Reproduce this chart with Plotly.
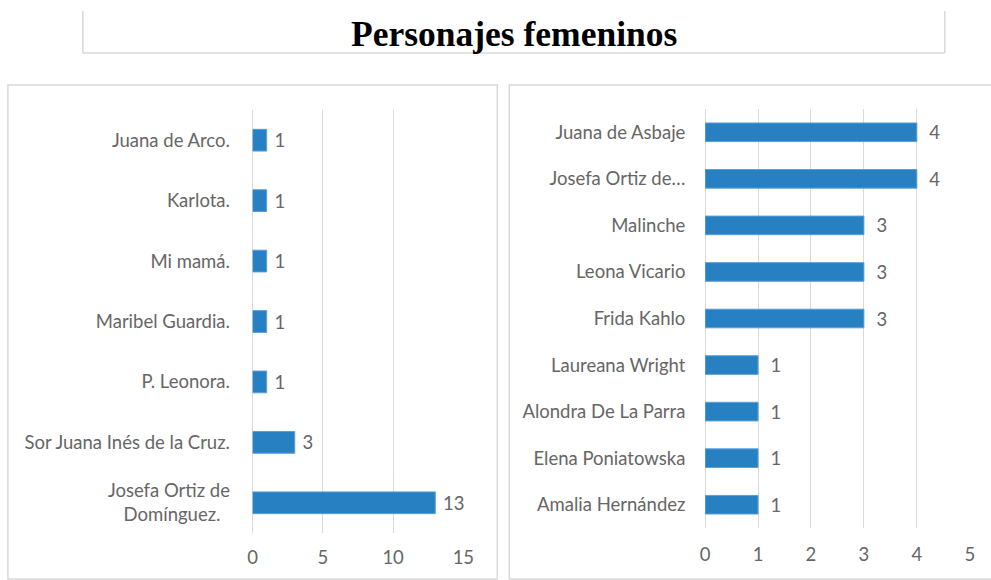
import plotly.graph_objects as go

W, H = 991, 580

left_names = ["Juana de Arco.", "Karlota.", "Mi mamá.", "Maribel Guardia.", "P. Leonora.",
              "Sor Juana Inés de la Cruz.", "Josefa Ortiz de<br>Domínguez.\u00a0\u00a0"]
left_values = [1, 1, 1, 1, 1, 3, 13]
left_ticks = [0, 5, 10, 15]

right_names = ["Juana de Asbaje", "Josefa Ortiz de…", "Malinche", "Leona Vicario", "Frida Kahlo",
               "Laureana Wright", "Alondra De La Parra", "Elena Poniatowska", "Amalia Hernández"]
right_values = [4, 4, 3, 3, 3, 1, 1, 1, 1]
right_ticks = [0, 1, 2, 3, 4, 5]

title_text = "Personajes femeninos"

BAR = "#2680c2"
BAR_EDGE = "#5a9fd8"
GRID = "#d9d9d9"
TXT = "#666666"
FONT = "Lato"
FS = 18.5

# horizontal compensation for how the page is photographed
SX, OX = 0.985, 5.1

def px_x(p):
    return (p - OX) / SX / W

def px_y(p):
    return 1 - p / H

fig = go.Figure()

fig.add_trace(go.Bar(
    y=left_names, x=left_values, orientation="h", width=0.36,
    marker=dict(color=BAR, line=dict(color=BAR_EDGE, width=1)),
    text=[f" {v}" for v in left_values], textposition="outside", cliponaxis=False,
    constraintext="none",
    textfont=dict(family=FONT, size=FS, color=TXT),
    xaxis="x", yaxis="y", showlegend=False, hoverinfo="skip"))

fig.add_trace(go.Bar(
    y=right_names, x=right_values, orientation="h", width=0.4,
    marker=dict(color=BAR, line=dict(color=BAR_EDGE, width=1)),
    text=[f"  {v}" for v in right_values], textposition="outside", cliponaxis=False,
    constraintext="none",
    textfont=dict(family=FONT, size=FS, color=TXT),
    xaxis="x2", yaxis="y2", showlegend=False, hoverinfo="skip"))

axis_common = dict(showgrid=True, gridcolor=GRID, gridwidth=1, zeroline=True, zerolinecolor=GRID,
                   zerolinewidth=1, showline=False, tickfont=dict(family=FONT, size=FS, color=TXT),
                   ticks="outside", tickcolor="rgba(0,0,0,0)", fixedrange=True)
yaxis_common = dict(showgrid=False, zeroline=False, showline=False, autorange="reversed",
                    tickfont=dict(family=FONT, size=FS, color=TXT), ticks="outside",
                    tickcolor="rgba(0,0,0,0)", fixedrange=True)

fig.update_layout(
    width=W, height=H, autosize=False,
    margin=dict(l=0, r=0, t=0, b=0),
    paper_bgcolor="white", plot_bgcolor="white",
    bargap=0,
    xaxis=dict(domain=[px_x(253), px_x(464)], range=[0, 15], tickvals=left_ticks, ticklen=8,
               anchor="y", **axis_common),
    yaxis=dict(domain=[px_y(533), px_y(110)], anchor="x", ticklen=18, **yaxis_common),
    xaxis2=dict(domain=[px_x(706), px_x(971)], range=[0, 5], tickvals=right_ticks, ticklen=10,
                anchor="y2", **axis_common),
    yaxis2=dict(domain=[px_y(528), px_y(109)], anchor="x2", ticklen=15, **yaxis_common),
)

shapes = [
    dict(type="rect", xref="paper", yref="paper", x0=px_x(8), x1=px_x(498), y0=px_y(579), y1=px_y(85),
         line=dict(color=GRID, width=1.5)),
    dict(type="rect", xref="paper", yref="paper", x0=px_x(510), x1=px_x(1005), y0=px_y(579), y1=px_y(85),
         line=dict(color=GRID, width=1.5)),
    dict(type="line", xref="paper", yref="paper", x0=px_x(83), x1=px_x(83), y0=px_y(11), y1=px_y(53),
         line=dict(color=GRID, width=1.5)),
    dict(type="line", xref="paper", yref="paper", x0=px_x(83), x1=px_x(946), y0=px_y(53), y1=px_y(53),
         line=dict(color=GRID, width=1.5)),
    dict(type="line", xref="paper", yref="paper", x0=px_x(946), x1=px_x(946), y0=px_y(11), y1=px_y(53),
         line=dict(color=GRID, width=1.5)),
]
fig.update_layout(shapes=shapes)

fig.add_annotation(x=px_x(515), y=px_y(34), xref="paper", yref="paper", text=f"<b>{title_text}</b>",
                   showarrow=False, xanchor="center", yanchor="middle",
                   font=dict(family="Liberation Serif", size=35.5, color="black"))

fig.write_html("out.html",
               config=dict(displayModeBar=False, responsive=False, staticPlot=True),
               default_width=f"{W}px", default_height=f"{H}px",
               post_script="document.body.style.margin='0';document.body.style.overflow='hidden';")
